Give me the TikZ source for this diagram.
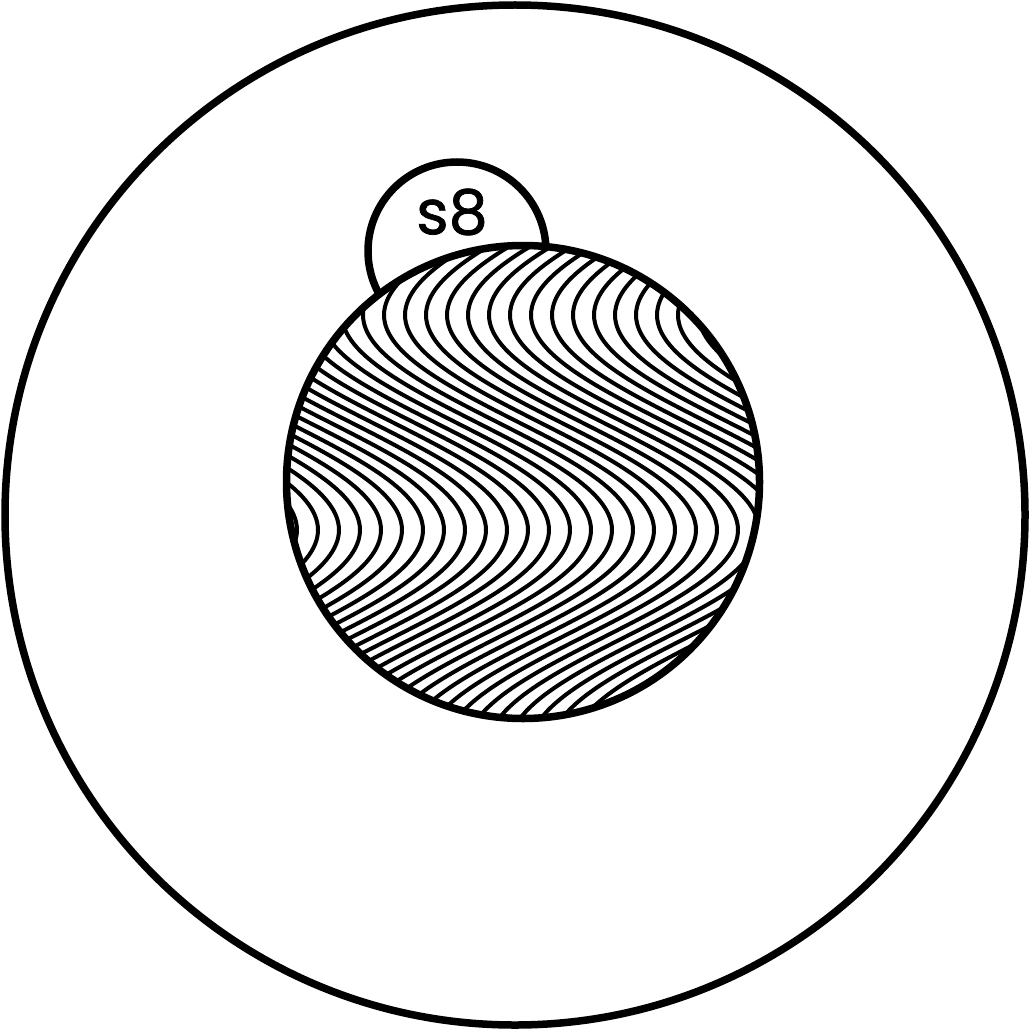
\documentclass[tikz,border=0pt]{standalone}
\usepackage{fontspec}
\newfontfamily\labelfont[FakeBold=1.2]{Poppins}
\begin{document}
\begin{tikzpicture}[x=1pt,y=-1pt,
  ring/.style={draw=black,line width=7.5pt},
  wave/.style={draw=black,line width=4pt},
  lbl/.style={font=\labelfont\fontsize{62}{62}\selectfont,inner sep=0pt}]
\useasboundingbox (0,0) rectangle (1030,1030);
% outer circle
\node[ring,circle,minimum size=1020pt,inner sep=0pt] (outer) at (515,515) {};
% small circle s8
\node[ring,circle,fill=white,minimum size=178pt,inner sep=0pt] (s8c) at (457,251) {};
\node[lbl] (s8) at (452,212) {s8};
% hatched circle
\node[circle,fill=white,minimum size=473pt,inner sep=0pt] (hatch) at (523,482) {};
\begin{scope}
  \clip (523,482) circle[radius=236.5pt];
  \foreach \k in {-2,...,36}{
    \draw[wave] plot[smooth,variable=\t,domain=230:740,samples=70]
      ({162+21*\k-135*cos(0.8372*(\t-315))},{\t});
  }
\end{scope}
\node[ring,circle,minimum size=473pt,inner sep=0pt] (hatchring) at (523,482) {};
\end{tikzpicture}
\end{document}
